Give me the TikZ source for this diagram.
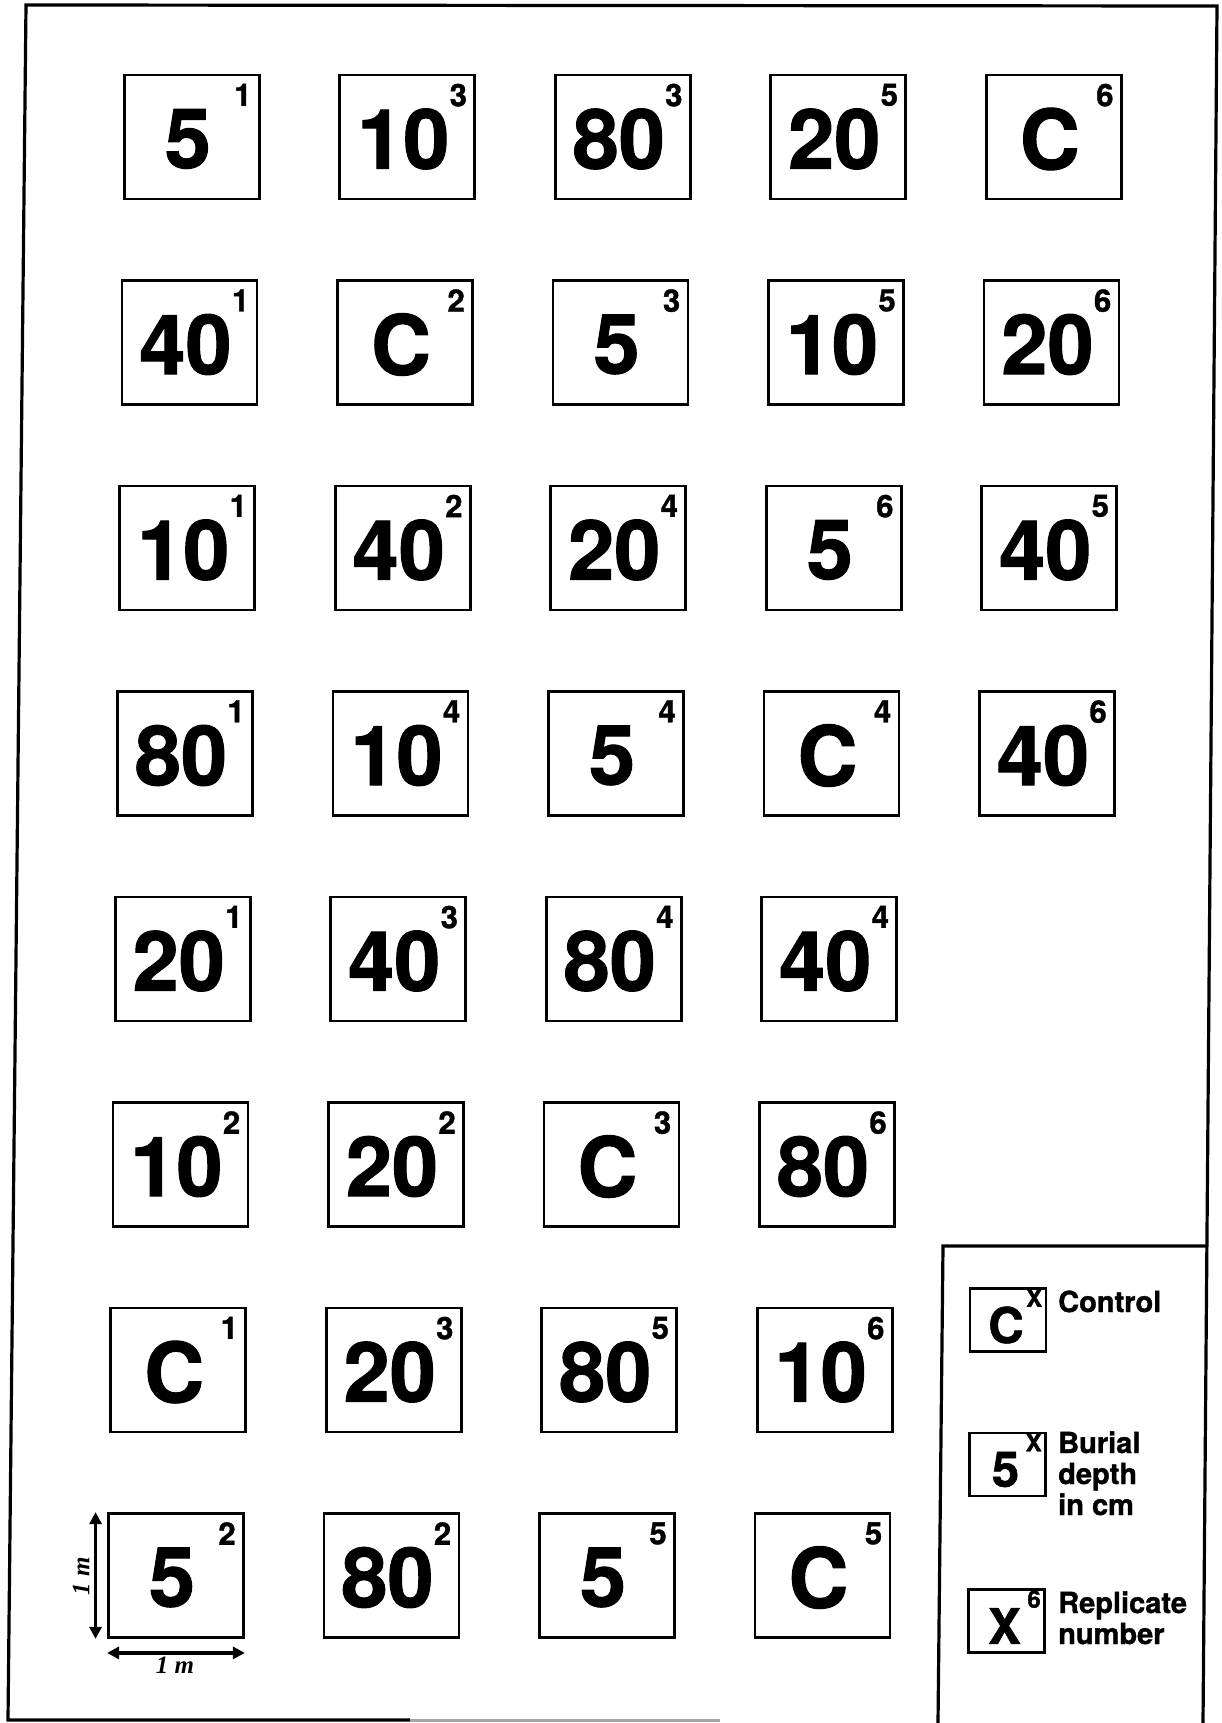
\documentclass[tikz,border=0pt]{standalone}
\usepackage{fontspec}
\setmainfont{TeX Gyre Heros}[BoldFeatures={FakeBold=1.2}]
\newfontfamily\dimfont{Liberation Serif}
\usetikzlibrary{arrows.meta}
\begin{document}
\begin{tikzpicture}[x=1pt,y=-1pt,
  frame/.style={line width=3.2pt, line join=miter},
  plotbox/.style={draw, line width=2.8pt, minimum width=135pt, minimum height=124pt, inner sep=0pt},
  depthtxt/.style={font=\fontsize{83}{83}\selectfont\bfseries, inner sep=0pt},
  reptxt/.style={font=\fontsize{31}{31}\selectfont\bfseries, inner sep=0pt, anchor=north east},
  legbox/.style={draw, line width=2.8pt, minimum width=76pt, minimum height=63pt, inner sep=0pt},
  legbig/.style={font=\fontsize{49}{49}\selectfont\bfseries, inner sep=0pt},
  legsup/.style={font=\fontsize{24}{24}\selectfont\bfseries, inner sep=0pt, anchor=north east},
  legtxt/.style={font=\fontsize{29}{31}\selectfont\bfseries, inner sep=0pt, align=left, anchor=base west},
  dimarrow/.style={line width=3.4pt, {Triangle[length=12pt,width=12pt]}-{Triangle[length=12pt,width=12pt]}},
  dimlabel/.style={font=\fontsize{25}{25}\selectfont\dimfont\bfseries\itshape, inner sep=0pt}]
\useasboundingbox (0,0) rectangle (1222,1723);
\fill[white] (0,0) rectangle (1222,1723);
% outer frame
\draw[frame] (410,1720) -- (8,1720) -- (26,5) -- (1217,6) -- (1203,1723);
\draw[line width=3pt, black!35] (410,1720) -- (720,1720);
% legend frame
\draw[frame] (1207,1246) -- (943,1246) -- (938,1723);
% plots
\foreach \r/\c/\t/\s in {
  1/1/5/1, 1/2/10/3, 1/3/80/3, 1/4/20/5, 1/5/C/6,
  2/1/40/1, 2/2/C/2, 2/3/5/3, 2/4/10/5, 2/5/20/6,
  3/1/10/1, 3/2/40/2, 3/3/20/4, 3/4/5/6, 3/5/40/5,
  4/1/80/1, 4/2/10/4, 4/3/5/4, 4/4/C/4, 4/5/40/6,
  5/1/20/1, 5/2/40/3, 5/3/80/4, 5/4/40/4,
  6/1/10/2, 6/2/20/2, 6/3/C/3, 6/4/80/6,
  7/1/C/1, 7/2/20/3, 7/3/80/5, 7/4/10/6,
  8/1/5/2, 8/2/80/2, 8/3/5/5, 8/4/C/5} {
  \pgfmathsetmacro\yc{75+(\r-1)*205.5+62}
  \pgfmathsetmacro\xc{125.8+(\c-1)*215.5+67.5-0.011*\yc}
  \node[plotbox] (b\r\c) at (\xc,\yc) {};
  \node[depthtxt] (d\r\c) at ([xshift=-4pt,yshift=-2pt]b\r\c.center) {\t};
  \node[reptxt] (s\r\c) at ([xshift=-9pt,yshift=-10pt]b\r\c.north east) {\s};
}
% dimension arrows
\draw[dimarrow] ([xshift=-11.5pt]b81.north west) -- ([xshift=-11.5pt]b81.south west);
\draw[dimarrow] ([yshift=-14pt]b81.south west) -- ([yshift=-14pt]b81.south east);
\node[dimlabel, rotate=90] (lv) at (81,1576) {1 m};
\node[dimlabel] (lh) at (175,1665) {1 m};
% legend
\node[legbox] (l1) at (1008,1320) {};
\node[legbig] (l1m) at ([xshift=-2pt,yshift=-5pt]l1.center) {C};
\node[legsup] (l1s) at ([xshift=-5pt,yshift=-2pt]l1.north east) {X};
\node[legtxt] (l1t) at (1058,1312) {Control};
\node[legbox] (l2) at (1007.5,1464.5) {};
\node[legbig] (l2m) at ([xshift=-2pt,yshift=-5pt]l2.center) {5};
\node[legsup] (l2s) at ([xshift=-5pt,yshift=-2pt]l2.north east) {X};
\node[legtxt] (l2t) at (1058,1515) {Burial\\depth\\in cm};
\node[legbox] (l3) at (1006.5,1621) {};
\node[legbig] (l3m) at ([xshift=-2pt,yshift=-5pt]l3.center) {X};
\node[legsup] (l3s) at ([xshift=-5pt,yshift=-2pt]l3.north east) {6};
\node[legtxt] (l3t) at (1058,1644) {Replicate\\number};
\end{tikzpicture}
\end{document}
